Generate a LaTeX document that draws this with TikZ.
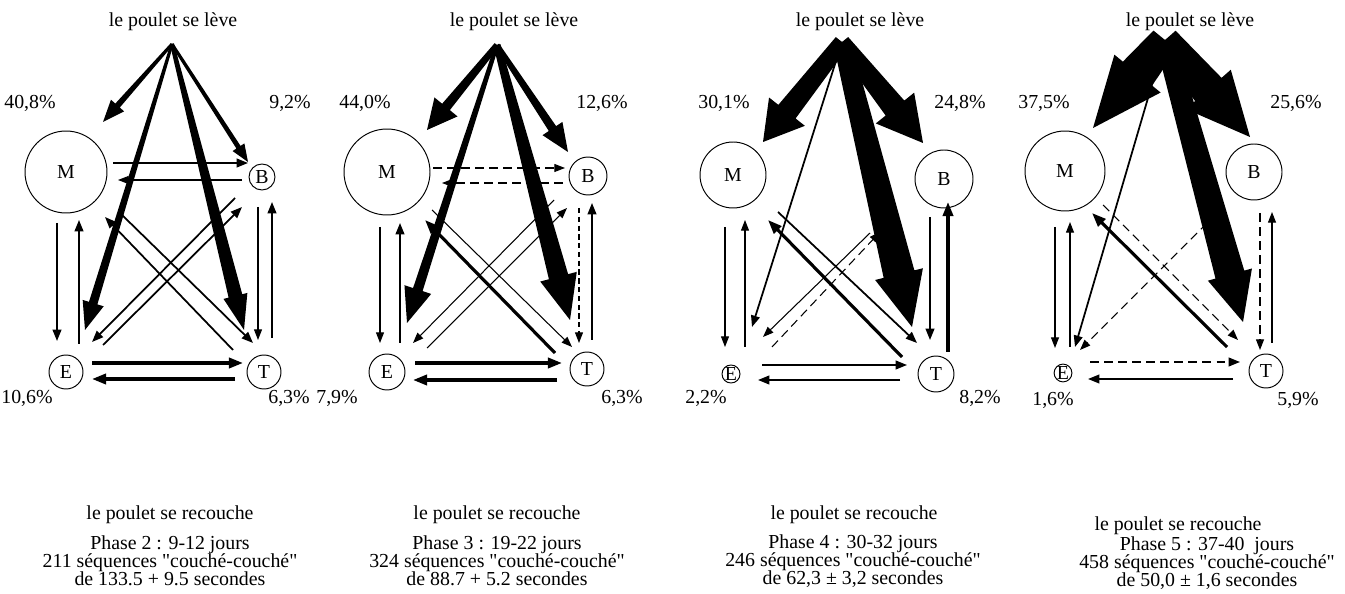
\documentclass[tikz,border=0pt]{standalone}
\usepackage{fontspec}
\setmainfont{Liberation Serif}[Ligatures=TeXOff]
\usetikzlibrary{positioning, calc, arrows.meta}

\begin{document}
\begin{tikzpicture}[
    x=0.02cm, y=-0.02cm,
    font=\fontsize{11.3pt}{10.3pt}\selectfont,
    state/.style={circle, draw, line width=0.55pt, inner sep=0pt},
    pct/.style={inner sep=0pt},
    info/.style={align=center, inner sep=0pt},
    lowflow/.style={line width=0.6pt, -{Triangle[length=6pt, width=4.5pt]}},
    midflow/.style={line width=1pt, -{Triangle[length=6.5pt, width=5pt]}},
    highflow/.style={line width=1.8pt, -{Triangle[length=8pt, width=5.8pt]}},
    rare/.style={dash pattern=on 5pt off 3pt},
    % tapered arrow: start width, shaft end width, head width, head length
    rise/.style n args={4}{to path={
        ($(\tikztostart)!#1/2!90:(\tikztotarget)$)
        -- ($(\tikztotarget)!#4!(\tikztostart)!#2/2!90:(\tikztotarget)$)
        -- ($(\tikztotarget)!#4!(\tikztostart)!#3/2!90:(\tikztotarget)$)
        -- (\tikztotarget)
        -- ($(\tikztotarget)!#4!(\tikztostart)!#3/2!-90:(\tikztotarget)$)
        -- ($(\tikztotarget)!#4!(\tikztostart)!#2/2!-90:(\tikztotarget)$)
        -- ($(\tikztostart)!#1/2!-90:(\tikztotarget)$) -- cycle}}
  ]
  \useasboundingbox (0,0) rectangle (1345,594);

  % Phase 2 : 9-12 jours
  \node (up1) at (173,22) {le poulet se lève};
  \coordinate (lev1) at (172,44);
  \node[state, minimum size=1.64cm] (M1) at (66,172) {M};
  \node[state, minimum size=0.52cm] (B1) at (262,177) {B};
  \node[state, minimum size=0.68cm] (E1) at (66,372) {E};
  \node[state, minimum size=0.68cm] (T1) at (264,372) {T};
  \node[pct] (pM1) at (30,103) {40,8\%};
  \node[pct] (pB1) at (290,103) {9,2\%};
  \node[pct] (pE1) at (27,398) {10,6\%};
  \node[pct] (pT1) at (289,398) {6,3\%};
  \coordinate (hM1) at ($(M1)+(37,-50)$);
  \coordinate (hB1) at ($(B1)+(-14,-15)$);
  \coordinate (hE1) at ($(E1)+(19,-42)$);
  \coordinate (hT1) at ($(T1)+(-20,-42)$);
  \draw[midflow] ($(M1)+(47,-9)$) -- ($(B1)+(-14,-14)$);
  \draw[lowflow] ($(B1)+(-20,3)$) -- ($(M1)+(52,8)$);
  \draw[midflow] ($(M1)+(-9,51)$) -- ($(E1)+(-9,-31)$);
  \draw[midflow] ($(E1)+(13,-28)$) -- ($(M1)+(13,48)$);
  \draw[lowflow] ($(B1)+(-4,30)$) -- ($(T1)+(-6,-32)$);
  \draw[midflow] ($(T1)+(8,-34)$) -- ($(B1)+(10,25)$);
  \draw[highflow] ($(E1)+(26,-9)$) -- ($(T1)+(-21,-9)$);
  \draw[highflow] ($(T1)+(-29,7)$) -- ($(E1)+(26,7)$);
  \draw[midflow] ($(M1)+(54,41)$) -- ($(T1)+(-11,-29)$);
  \draw[midflow] ($(T1)+(-31,-22)$) -- ($(M1)+(39,45)$);
  \draw[midflow] ($(B1)+(-27,21)$) -- ($(E1)+(26,-30)$);
  \draw[midflow] ($(E1)+(37,-27)$) -- ($(B1)+(-20,30)$);
  \fill[rise={1.7pt}{3.4pt}{10pt}{12.5pt}] (lev1) to (hM1);
  \fill[rise={1.7pt}{2.8pt}{8pt}{10pt}] (lev1) to (hB1);
  \fill[rise={1.7pt}{5pt}{12.5pt}{16pt}] (lev1) to (hE1);
  \fill[rise={2.3pt}{8pt}{14pt}{20pt}] (lev1) to (hT1);
  \node (down1) at (170,515) {le poulet se recouche};
  \node[info] (info1) at (170,561) {Phase 2 : 9-12 jours\\211 séquences "couché-couché"\\de 133.5 + 9.5 secondes};

  % Phase 3 : 19-22 jours
  \node (up2) at (514,22) {le poulet se lève};
  \coordinate (lev2) at (497,45);
  \node[state, minimum size=1.72cm] (M2) at (387,172) {M};
  \node[state, minimum size=0.76cm] (B2) at (588,176) {B};
  \node[state, minimum size=0.72cm] (E2) at (387,372) {E};
  \node[state, minimum size=0.68cm] (T2) at (587,369) {T};
  \node[pct] (pM2) at (365,103) {44,0\%};
  \node[pct] (pB2) at (602,103) {12,6\%};
  \node[pct] (pE2) at (337,398) {7,9\%};
  \node[pct] (pT2) at (622,398) {6,3\%};
  \coordinate (hM2) at ($(M2)+(40,-42)$);
  \coordinate (hB2) at ($(B2)+(-20,-24)$);
  \coordinate (hE2) at ($(E2)+(20,-49)$);
  \coordinate (hT2) at ($(T2)+(-17,-49)$);
  \draw[lowflow, rare] ($(M2)+(46,-4)$) -- ($(B2)+(-23,-8)$);
  \draw[lowflow, rare] ($(B2)+(-25,7)$) -- ($(M2)+(55,11)$);
  \draw[lowflow] ($(M2)+(-7,55)$) -- ($(E2)+(-7,-29)$);
  \draw[midflow] ($(E2)+(13,-29)$) -- ($(M2)+(13,51)$);
  \draw[lowflow, densely dashed] ($(B2)+(-9,32)$) -- ($(T2)+(-8,-26)$);
  \draw[midflow] ($(T2)+(5,-29)$) -- ($(B2)+(4,27)$);
  \draw[highflow] ($(E2)+(28,-9)$) -- ($(T2)+(-25,-6)$);
  \draw[highflow] ($(T2)+(-30,11)$) -- ($(E2)+(26,8)$);
  \draw[lowflow] ($(M2)+(45,38)$) -- ($(T2)+(-15,-22)$);
  \draw[highflow] ($(T2)+(-32,-16)$) -- ($(M2)+(38,48)$);
  \draw[lowflow] ($(B2)+(-34,24)$) -- ($(E2)+(26,-29)$);
  \draw[lowflow] ($(E2)+(40,-24)$) -- ($(B2)+(-21,32)$);
  \fill[rise={3.4pt}{5.7pt}{17pt}{17pt}] (lev2) to (hM2);
  \fill[rise={2.8pt}{5pt}{13.6pt}{16pt}] (lev2) to (hB2);
  \fill[rise={2.3pt}{5.7pt}{16pt}{20pt}] (lev2) to (hE2);
  \fill[rise={4pt}{11.3pt}{21.5pt}{25.5pt}] (lev2) to (hT2);
  \node (down2) at (497,515) {le poulet se recouche};
  \node[info] (info2) at (497,561) {Phase 3 : 19-22 jours\\324 séquences "couché-couché"\\de 88.7 + 5.2 secondes};

  % Phase 4 : 30-32 jours
  \node (up3) at (860,22) {le poulet se lève};
  \coordinate (lev3) at (842,42);
  \node[state, minimum size=1.32cm] (M3) at (733,175) {M};
  \node[state, minimum size=1.16cm] (B3) at (944,179) {B};
  \node[state, minimum size=0.36cm] (E3) at (731,374) {E};
  \node[state, minimum size=0.72cm] (T3) at (936,374) {T};
  \node[pct] (pM3) at (724,103) {30,1\%};
  \node[pct] (pB3) at (960,103) {24,8\%};
  \node[pct] (pE3) at (706,398) {2,2\%};
  \node[pct] (pT3) at (980,398) {8,2\%};
  \coordinate (hM3) at ($(M3)+(30,-33)$);
  \coordinate (hB3) at ($(B3)+(-21,-36)$);
  \coordinate (hT3) at ($(T3)+(-24,-47)$);
  \draw[lowflow] ($(M3)+(-8,52)$) -- ($(E3)+(-6,-27)$);
  \draw[lowflow] ($(E3)+(14,-27)$) -- ($(M3)+(12,45)$);
  \draw[midflow] ($(B3)+(-14,38)$) -- ($(T3)+(-6,-34)$);
  \draw[highflow] ($(T3)+(12,-22)$) -- ($(B3)+(4,23)$);
  \draw[midflow] ($(E3)+(31,-9)$) -- ($(T3)+(-29,-9)$);
  \draw[midflow] ($(T3)+(-36,6)$) -- ($(E3)+(27,6)$);
  \draw[midflow] ($(M3)+(45,37)$) -- ($(T3)+(-19,-31)$);
  \draw[highflow] ($(T3)+(-34,-17)$) -- ($(M3)+(35,45)$);
  \draw[lowflow] ($(B3)+(-74,54)$) -- ($(E3)+(32,-37)$);
  \draw[lowflow, rare] ($(E3)+(41,-27)$) -- ($(B3)+(-64,53)$);
  \draw[midflow] (lev3) -- ($(E3)+(21,-47)$);
  \fill[rise={9pt}{12.5pt}{26pt}{22pt}] (lev3) to (hM3);
  \fill[rise={9pt}{13.6pt}{28pt}{25.5pt}] (lev3) to (hB3);
  \fill[rise={10pt}{18pt}{28pt}{31pt}] (lev3) to (hT3);
  \node (down3) at (854,515) {le poulet se recouche};
  \node[info] (info3) at (853,561) {Phase 4 : 30-32 jours\\246 séquences "couché-couché"\\de 62,3 ± 3,2 secondes};

  % Phase 5 : 37-40 jours
  \node (up4) at (1190,22) {le poulet se lève};
  \coordinate (lev4) at (1165,40);
  \node[state, minimum size=1.60cm] (M4) at (1065,171) {M};
  \node[state, minimum size=1.12cm] (B4) at (1254,172) {B};
  \node[state, minimum size=0.32cm] (E4) at (1063,373) {E};
  \node[state, minimum size=0.68cm] (T4) at (1266,371) {T};
  \node[pct] (pM4) at (1044,103) {37,5\%};
  \node[pct] (pB4) at (1296,103) {25,6\%};
  \node[pct] (pE4) at (1053,400) {1,6\%};
  \node[pct] (pT4) at (1298,400) {5,9\%};
  \coordinate (hM4) at ($(M4)+(28,-43)$);
  \coordinate (hB4) at ($(B4)+(-4,-35)$);
  \coordinate (hT4) at ($(T4)+(-23,-49)$);
  \draw[lowflow] ($(M4)+(-10,56)$) -- ($(E4)+(-8,-25)$);
  \draw[lowflow] ($(E4)+(7,-26)$) -- ($(M4)+(5,51)$);
  \draw[lowflow, rare] ($(B4)+(6,41)$) -- ($(T4)+(-6,-21)$);
  \draw[lowflow] ($(T4)+(6,-28)$) -- ($(B4)+(18,40)$);
  \draw[midflow, rare] ($(E4)+(27,-11)$) -- ($(T4)+(-26,-9)$);
  \draw[midflow] ($(T4)+(-33,8)$) -- ($(E4)+(25,6)$);
  \draw[highflow] ($(T4)+(-39,-24)$) -- ($(M4)+(27,42)$);
  \draw[lowflow, rare] ($(M4)+(38,34)$) -- ($(T4)+(-28,-31)$);
  \draw[lowflow, rare] ($(B4)+(-47,51)$) -- ($(E4)+(17,-23)$);
  \draw[midflow] (lev4) -- ($(E4)+(12,-26)$);
  \fill[rise={17pt}{21.5pt}{34pt}{40pt}] (lev4) to (hM4);
  \fill[rise={16pt}{20pt}{34pt}{36pt}] (lev4) to (hB4);
  \fill[rise={11pt}{17pt}{26pt}{28pt}] (lev4) to (hT4);
  \node (down4) at (1178,526) {le poulet se recouche};
  \node[info] (info4) at (1207,563) {Phase 5 : 37-40~ jours\\458 séquences "couché-couché"\\de 50,0 ± 1,6 secondes};
\end{tikzpicture}
\end{document}
